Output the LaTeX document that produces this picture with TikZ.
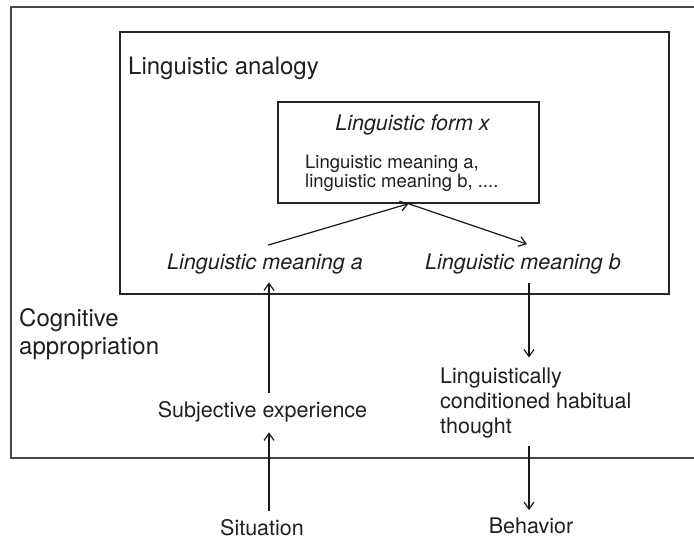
\documentclass[tikz,border=0pt]{standalone}
\usepackage{fontspec}
\setmainfont{TeX Gyre Heros}
\usetikzlibrary{arrows.meta,calc}
\begin{document}
\begin{tikzpicture}[x=1pt,y=-1pt,
  frame/.style={draw=black!85, line width=1.4pt, inner sep=0pt},
  outerframe/.style={draw=black!72, line width=1.8pt, inner sep=0pt},
  big/.style={inner sep=0pt, text=black!88, font=\fontsize{24}{28}\selectfont},
  mid/.style={inner sep=0pt, text=black!88, font=\fontsize{21.5}{25}\selectfont},
  midit/.style={mid, font=\fontsize{21.5}{25}\selectfont\itshape},
  small/.style={inner sep=0pt, text=black!88, font=\fontsize{18.5}{19.5}\selectfont},
  link/.style={draw=black!90, line width=1.2pt, -{Straight Barb[length=7pt,width=10pt]}}
]
\clip (0,0) rectangle (694,540);

% nested frames
\node[outerframe, minimum width=689pt, minimum height=451pt] (cog) at (355.5,232.5) {};
\node[frame, minimum width=549pt, minimum height=262pt] (analogy) at (394.5,163) {};
\node[frame, minimum width=261pt, minimum height=101pt] (form) at (408.5,152.5) {};

% frame labels
\node[big, anchor=base west] (analogylbl) at (128,75) {Linguistic analogy};
\node[big, anchor=north west, align=left] (coglbl) at (19,308) {Cognitive\\appropriation};

% contents of the form box
\node[midit, anchor=base] (formlbl) at (412.5,131) {Linguistic form x};
\node[small, anchor=north west, align=left] (meanings) at (305,154.5) {Linguistic meaning a,\\linguistic meaning b, ....};

% meanings, experience and outcomes
\node[midit, anchor=base] (ma) at (265,270) {Linguistic meaning a};
\node[midit, anchor=base] (mb) at (523,270) {Linguistic meaning b};
\node[mid, anchor=base] (subj) at (262.5,417) {Subjective experience};
\node[mid, anchor=base] (sit) at (262,535) {Situation};
\node[mid, anchor=north west, align=left] (thought) at (440,367.5) {Linguistically\\conditioned habitual\\thought};
\node[mid, anchor=base] (beh) at (531,533) {Behavior};

% arrow columns
\coordinate (colA) at (269,0);
\coordinate (colB) at (529,0);

% connectors
\draw[link] ([shift={(3,-9)}]ma.north) -- (form.south);
\draw[link] (form.south) -- ([shift={(4,-10)}]mb.north);
\draw[link, shorten <=8pt, shorten >=7.5pt] (subj.north -| colA) -- (ma.south -| colA);
\draw[link, shorten <=8pt, shorten >=10.5pt] (sit.north -| colA) -- (subj.south -| colA);
\draw[link, shorten <=8.5pt, shorten >=10pt] (mb.south -| colB) -- (thought.north -| colB);
\draw[link, shorten <=7.5pt, shorten >=7pt] (thought.south -| colB) -- (beh.north -| colB);
\end{tikzpicture}
\end{document}
